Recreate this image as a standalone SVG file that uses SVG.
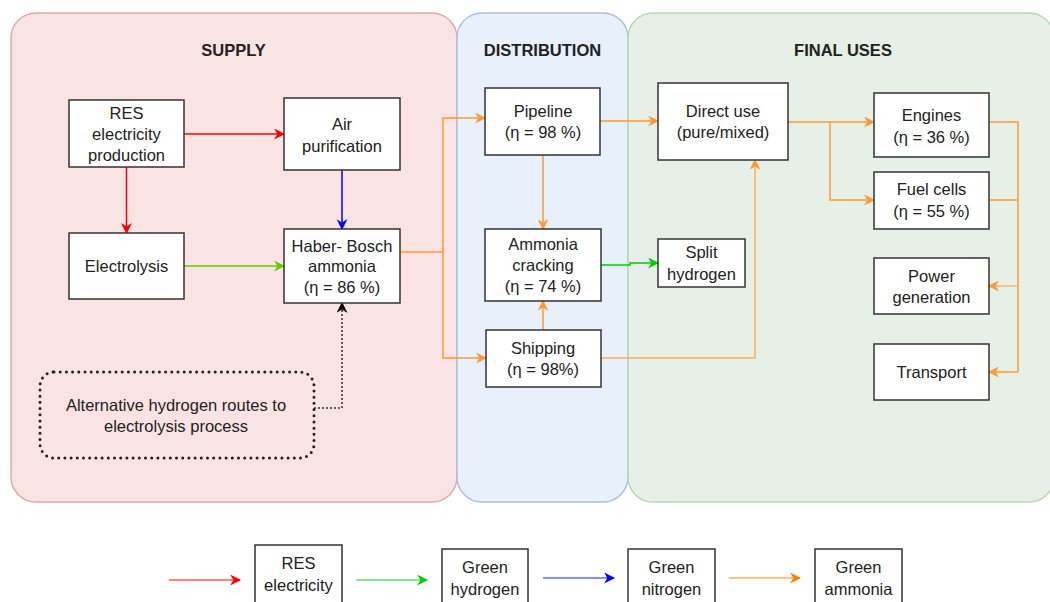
<svg xmlns="http://www.w3.org/2000/svg" width="1050" height="602" viewBox="0 0 1050 602">
<defs>
<style>
.t{font-family:"Liberation Sans",Arial,sans-serif;font-size:16.5px;fill:#222;text-anchor:middle}
.h{font-family:"Liberation Sans",Arial,sans-serif;font-size:16.5px;font-weight:bold;fill:#222;text-anchor:middle}
.n{fill:#fff;stroke:#333;stroke-width:1.5}
.c{fill:none;stroke-width:1.5}
.or{stroke:#ff9933}
</style>
<marker id="aR" viewBox="0 0 10 10" refX="9" refY="5" markerWidth="11" markerHeight="11" markerUnits="userSpaceOnUse" orient="auto"><path d="M0,0 L10,5 L0,10 L3,5 Z" fill="#ff0000"/></marker>
<marker id="aB" viewBox="0 0 10 10" refX="9" refY="5" markerWidth="11" markerHeight="11" markerUnits="userSpaceOnUse" orient="auto"><path d="M0,0 L10,5 L0,10 L3,5 Z" fill="#0000ff"/></marker>
<marker id="aG" viewBox="0 0 10 10" refX="9" refY="5" markerWidth="11" markerHeight="11" markerUnits="userSpaceOnUse" orient="auto"><path d="M0,0 L10,5 L0,10 L3,5 Z" fill="#66cc00"/></marker>
<marker id="aG2" viewBox="0 0 10 10" refX="9" refY="5" markerWidth="11" markerHeight="11" markerUnits="userSpaceOnUse" orient="auto"><path d="M0,0 L10,5 L0,10 L3,5 Z" fill="#00cc00"/></marker>
<marker id="aO" viewBox="0 0 10 10" refX="9" refY="5" markerWidth="11" markerHeight="11" markerUnits="userSpaceOnUse" orient="auto"><path d="M0,0 L10,5 L0,10 L3,5 Z" fill="#ff9933"/></marker>
<marker id="aO2" viewBox="0 0 10 10" refX="9" refY="5" markerWidth="11" markerHeight="11" markerUnits="userSpaceOnUse" orient="auto"><path d="M0,0 L10,5 L0,10 L3,5 Z" fill="#ff8000"/></marker>
<marker id="aK" viewBox="0 0 10 10" refX="9" refY="5" markerWidth="11" markerHeight="11" markerUnits="userSpaceOnUse" orient="auto"><path d="M0,0 L10,5 L0,10 L3,5 Z" fill="#000"/></marker>
</defs>
<rect width="1050" height="602" fill="#fff"/>
<g id="panels">
<g id="supply"><rect x="11" y="13" width="446" height="489" rx="25" fill="#fae3e3" stroke="#e0aaa7" stroke-width="1.5"/><text class="h" x="233.5" y="56">SUPPLY</text></g>
<g id="distribution"><rect x="457" y="13" width="171" height="489" rx="25" fill="#e8f0fc" stroke="#aac0e0" stroke-width="1.5"/><text class="h" x="542.5" y="56">DISTRIBUTION</text></g>
<g id="finaluses"><rect x="628" y="13" width="426" height="489" rx="25" fill="#e6f0e6" stroke="#bad8ae" stroke-width="1.5"/><text class="h" x="843" y="56">FINAL USES</text></g>
</g>
<g id="connectors">
<path class="c" d="M184,134 H284" stroke="#ff0000" marker-end="url(#aR)"/>
<path class="c" d="M126.5,167 V233" stroke="#ff0000" marker-end="url(#aR)"/>
<path class="c" d="M342,170 V229" stroke="#0000ff" marker-end="url(#aB)"/>
<path class="c" d="M184,266 H284" stroke="#66cc00" marker-end="url(#aG)"/>
<path class="c" d="M314,408 H342 V303" stroke="#333" stroke-dasharray="2,2" marker-end="url(#aK)"/>
<path class="c or" d="M400,252 H443"/>
<path class="c or" d="M443,252 V118 H485" marker-end="url(#aO)"/>
<path class="c or" d="M443,252 V358 H486" marker-end="url(#aO)"/>
<path class="c or" d="M543,155 V229" marker-end="url(#aO)"/>
<path class="c or" d="M543,330 V301" marker-end="url(#aO)"/>
<path class="c" d="M601,265 H630 V263 H658" stroke="#00cc00" marker-end="url(#aG2)"/>
<path class="c or" d="M600,121 H658" marker-end="url(#aO)"/>
<path class="c" d="M601,358 H755 V160" stroke="#ffaa55" marker-end="url(#aO)"/>
<path class="c or" d="M788,122 H874" marker-end="url(#aO)"/>
<path class="c or" d="M830,122 V200 H874" marker-end="url(#aO)"/>
<path class="c or" d="M989,122 H1018 V372"/>
<path class="c or" d="M989,200 H1018"/>
<path class="c" d="M1018,286 H989" stroke="#ffb570" marker-end="url(#aO)"/>
<path class="c or" d="M1018,372 H989" marker-end="url(#aO)"/>
</g>
<g id="n-res"><rect class="n" x="69" y="100" width="115" height="67"/><text class="t" x="126.5" y="119">RES</text><text class="t" x="126.5" y="140">electricity</text><text class="t" x="126.5" y="161">production</text></g>
<g id="n-air"><rect class="n" x="284" y="98" width="116" height="72"/><text class="t" x="342" y="130">Air</text><text class="t" x="342" y="152">purification</text></g>
<g id="n-electrolysis"><rect class="n" x="69" y="233" width="115" height="66"/><text class="t" x="126.5" y="272">Electrolysis</text></g>
<g id="n-haber"><rect class="n" x="284" y="229" width="116" height="74"/><text class="t" x="342" y="252">Haber- Bosch</text><text class="t" x="342" y="272">ammonia</text><text class="t" x="342" y="293">(η = 86 %)</text></g>
<g id="n-alt"><rect x="40" y="372" width="274" height="86" rx="14" fill="none" stroke="#222" stroke-width="3" stroke-linecap="round" stroke-dasharray="0,6.2"/><text class="t" x="176" y="411">Alternative hydrogen routes to</text><text class="t" x="176" y="432">electrolysis process</text></g>
<g id="n-pipeline"><rect class="n" x="485" y="88" width="115" height="67"/><text class="t" x="543" y="117">Pipeline</text><text class="t" x="543" y="138">(η = 98 %)</text></g>
<g id="n-cracking"><rect class="n" x="485" y="229" width="116" height="72"/><text class="t" x="543" y="250">Ammonia</text><text class="t" x="543" y="271">cracking</text><text class="t" x="543" y="292">(η = 74 %)</text></g>
<g id="n-shipping"><rect class="n" x="486" y="330" width="115" height="57"/><text class="t" x="543" y="354">Shipping</text><text class="t" x="543" y="375">(η = 98%)</text></g>
<g id="n-direct"><rect class="n" x="658" y="83" width="130" height="77"/><text class="t" x="723" y="117">Direct use</text><text class="t" x="723" y="138">(pure/mixed)</text></g>
<g id="n-split"><rect class="n" x="658" y="239" width="87" height="48"/><text class="t" x="701.5" y="258">Split</text><text class="t" x="701.5" y="280">hydrogen</text></g>
<g id="n-engines"><rect class="n" x="874" y="93" width="115" height="64"/><text class="t" x="931.5" y="121">Engines</text><text class="t" x="931.5" y="143">(η = 36 %)</text></g>
<g id="n-fuelcells"><rect class="n" x="874" y="172" width="115" height="57"/><text class="t" x="931.5" y="195">Fuel cells</text><text class="t" x="931.5" y="217">(η = 55 %)</text></g>
<g id="n-power"><rect class="n" x="874" y="258" width="115" height="56"/><text class="t" x="931.5" y="282">Power</text><text class="t" x="931.5" y="303">generation</text></g>
<g id="n-transport"><rect class="n" x="874" y="344" width="115" height="56"/><text class="t" x="931.5" y="378">Transport</text></g>
<g id="legend">
<path class="c" d="M169,580 H240" stroke="#ff5555" marker-end="url(#aR)"/>
<g id="l-res"><rect class="n" x="255" y="545" width="87" height="70"/><text class="t" x="298.5" y="569">RES</text><text class="t" x="298.5" y="591">electricity</text></g>
<path class="c" d="M356,580 H427" stroke="#66dd66" marker-end="url(#aG2)"/>
<g id="l-h2"><rect class="n" x="442" y="549" width="86" height="70"/><text class="t" x="485" y="573">Green</text><text class="t" x="485" y="595">hydrogen</text></g>
<path class="c" d="M543,578 H614" stroke="#6666ff" marker-end="url(#aB)"/>
<g id="l-n2"><rect class="n" x="628" y="549" width="87" height="70"/><text class="t" x="671.5" y="573">Green</text><text class="t" x="671.5" y="595">nitrogen</text></g>
<path class="c" d="M729,578 H800" stroke="#ffb066" marker-end="url(#aO2)"/>
<g id="l-nh3"><rect class="n" x="815" y="549" width="87" height="70"/><text class="t" x="858.5" y="573">Green</text><text class="t" x="858.5" y="595">ammonia</text></g>
</g>
</svg>
